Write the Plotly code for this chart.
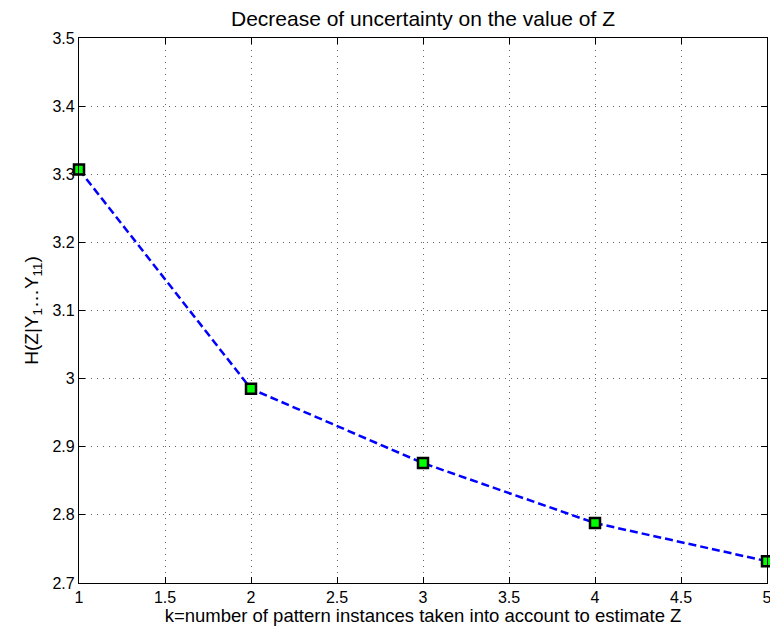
import plotly.graph_objects as go

k_values = [1, 2, 3, 4, 5]
entropy = [3.307, 2.985, 2.876, 2.788, 2.732]
x_ticks = [1, 1.5, 2, 2.5, 3, 3.5, 4, 4.5, 5]
x_tick_labels = ["1", "1.5", "2", "2.5", "3", "3.5", "4", "4.5", "5"]
y_ticks = [2.7, 2.8, 2.9, 3.0, 3.1, 3.2, 3.3, 3.4, 3.5]
y_tick_labels = ["2.7", "2.8", "2.9", "3", "3.1", "3.2", "3.3", "3.4", "3.5"]

# page body has an 8px default margin, so the figure is drawn smaller
W, H = 770, 618

fig = go.Figure()
fig.add_trace(go.Scatter(
    x=k_values, y=entropy, mode="lines+markers",
    line=dict(color="#0000ff", width=2.5, dash="8px,4px"),
    marker=dict(symbol="square", size=10, color="#00ff00",
                line=dict(color="black", width=2.5)),
    cliponaxis=False, showlegend=False,
))

font = "Liberation Sans, Arial, sans-serif"
axis_common = dict(
    showline=True, linecolor="black", linewidth=1.2, mirror="allticks",
    ticks="inside", ticklen=6, tickcolor="black", tickwidth=1,
    showgrid=True, gridcolor="#666666", griddash="1px,5px", gridwidth=1,
    zeroline=False, tickfont=dict(family=font, size=16, color="black"),
    ticklabeloverflow="allow",
)

fig.update_layout(
    width=W, height=H,
    margin=dict(l=71, r=6, t=30, b=42),
    paper_bgcolor="white", plot_bgcolor="white",
    title=dict(text="Decrease of uncertainty on the value of Z",
               x=0.5, xanchor="center", xref="paper",
               y=1 - 11 / H, yanchor="middle",
               font=dict(family=font, size=21, color="black")),
    xaxis=dict(range=[1, 5], tickvals=x_ticks, ticktext=x_tick_labels,
               title=dict(text="k=number of pattern instances taken into account to estimate Z",
                          font=dict(family=font, size=18.5, color="black"), standoff=1),
               **axis_common),
    yaxis=dict(range=[2.7, 3.5], tickvals=y_ticks, ticktext=y_tick_labels,
               title=dict(text="H(Z|Y<sub>1</sub>…Y<sub>11</sub>)",
                          font=dict(family=font, size=19, color="black"), standoff=8),
               **axis_common),
)

fig.write_html("out.html")
